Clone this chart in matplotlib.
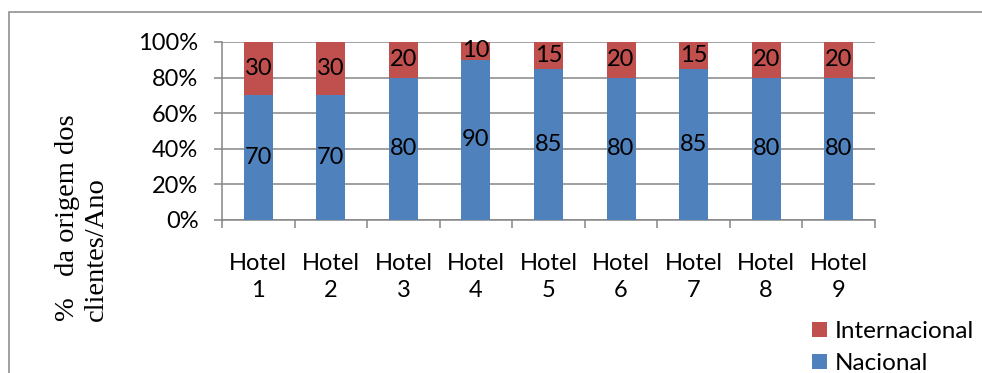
import numpy as np
import matplotlib
matplotlib.use('Agg')
import matplotlib.pyplot as plt
from matplotlib.patches import Rectangle

hotels = ['Hotel\n1', 'Hotel\n2', 'Hotel\n3', 'Hotel\n4', 'Hotel\n5',
          'Hotel\n6', 'Hotel\n7', 'Hotel\n8', 'Hotel\n9']
nacional = [70, 70, 80, 90, 85, 80, 85, 80, 80]
internacional = [30, 30, 20, 10, 15, 20, 15, 20, 20]
yticks = [0, 20, 40, 60, 80, 100]

blue = '#4F81BD'
red = '#C0504D'
grey = '#868686'
fs = 17

plt.rcParams['font.family'] = ['Lato', 'DejaVu Sans']

W, H = 982, 373
fig = plt.figure(figsize=(W/100, H/100), dpi=100)
ax = fig.add_axes([222/W, 1-220/H, (875-222)/W, (220-42)/H])

x = np.arange(len(hotels))
b1 = ax.bar(x, nacional, 0.4, color=blue, label='Nacional', zorder=3)
b2 = ax.bar(x, internacional, 0.4, bottom=nacional, color=red, label='Internacional', zorder=3)
ax.bar_label(b1, labels=[str(v) for v in nacional], label_type='center', fontsize=fs, zorder=4)
ax.bar_label(b2, labels=[str(v) for v in internacional], label_type='center', fontsize=fs, zorder=4)

ax.set_xlim(-0.5, len(hotels)-0.5)
ax.set_ylim(0, 100)
ax.set_yticks(yticks)
ax.set_yticklabels(['%d%%' % v for v in yticks], fontsize=fs)
ax.yaxis.grid(True, color=grey, linewidth=1.1, zorder=0)

# category labels centred, ticks on category boundaries
ax.set_xticks(x)
ax.set_xticklabels(hotels, fontsize=fs, linespacing=1.35)
ax.set_xticks(np.arange(len(hotels)+1)-0.5, minor=True)
ax.tick_params(axis='x', which='major', length=0, pad=24)
ax.tick_params(axis='x', which='minor', length=6, width=1.1, color=grey)
ax.tick_params(axis='y', length=6, width=1.1, color=grey, pad=11)

for s in ['top', 'right']:
    ax.spines[s].set_visible(False)
for s in ['left', 'bottom']:
    ax.spines[s].set_color(grey)
    ax.spines[s].set_linewidth(1.1)

fig.text(82/W, 1-321/H, '%   da origem dos\nclientes/Ano', rotation=90,
         ha='center', va='bottom', multialignment='left',
         family='Liberation Serif', fontsize=20.5, linespacing=1.2)

handles = [b2, b1]
fig.legend(handles, ['Internacional', 'Nacional'], loc='upper left',
           bbox_to_anchor=(812/W, 1-321/H), frameon=False, fontsize=17.5,
           handlelength=0.62, handleheight=0.62, handletextpad=0.3,
           labelspacing=0.45, borderpad=0, borderaxespad=0)

# outer chart border (only left and top are inside the picture)
fig.patches.append(Rectangle((9/W, -0.2), 1.2, 1-12/H+0.2, transform=fig.transFigure,
                             fill=False, edgecolor=grey, linewidth=1.1))

fig.savefig('out.png', dpi=100)
